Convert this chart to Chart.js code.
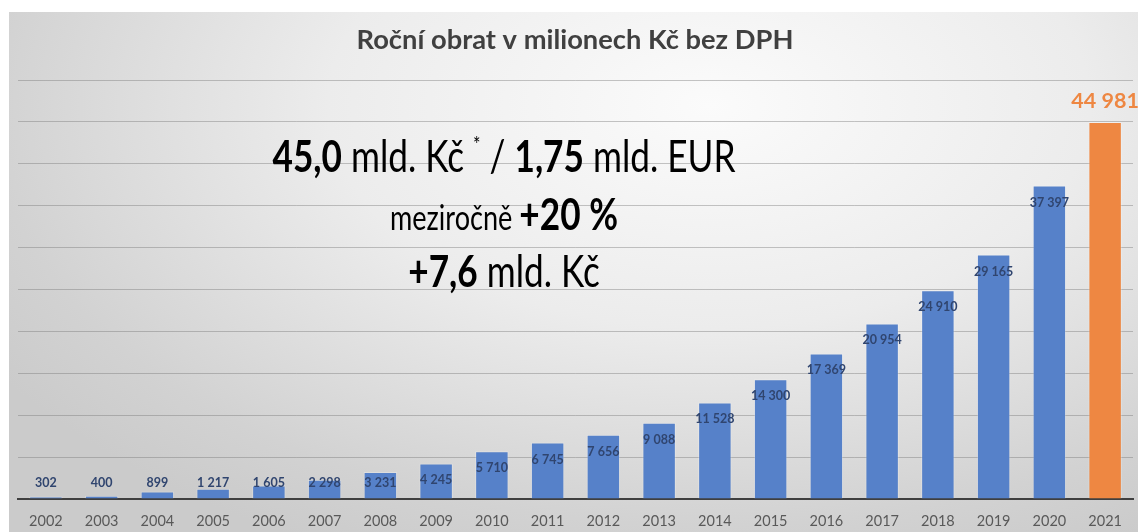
<!DOCTYPE html>
<html>
<head>
<meta charset="utf-8">
<script src="https://cdn.jsdelivr.net/npm/chart.js@4.4.1/dist/chart.umd.min.js"></script>
<style>
    html, body { margin: 0; padding: 0; background: #fff; }
    #wrap { position: relative; width: 1138px; height: 532px; overflow: hidden; background: #fff; }
    #bg {
        position: absolute; left: 9px; top: 12px; right: 0; bottom: 0;
        background: radial-gradient(ellipse 75% 95% at 62% 18%, #fbfbfb 0%, #ececec 45%, #d2d2d2 85%, #cbcbcb 100%);
    }
    #turnoverChart { position: absolute; left: 0; top: 0; }
</style>
</head>
<body>
<div id="wrap">
    <div id="bg"></div>
    <canvas id="turnoverChart" width="1138" height="532"></canvas>
</div>
<script>
// Roční obrat v milionech Kč
const years = ['2002', '2003', '2004', '2005', '2006', '2007', '2008', '2009', '2010', '2011',
    '2012', '2013', '2014', '2015', '2016', '2017', '2018', '2019', '2020', '2021'];
const turnover = [302, 400, 899, 1217, 1605, 2298, 3231, 4245, 5710, 6745,
    7656, 9088, 11528, 14300, 17369, 20954, 24910, 29165, 37397, 44981];

const titleText = 'Roční obrat v milionech Kč bez DPH';
// headline rows: [text, bold?, variant]
const headline1 = [['45,0', true], [' mld. Kč ', false], ['*', false, 'sup'], [' / ', false], ['1,75', true], [' mld. EUR', false]];
const headline2 = [['meziročně ', false, 'small'], ['+20 %', true]];
const headline3 = [['+7,6', true], [' mld. Kč', false]];

const blue = '#5681c9';
const orange = '#ee8742';
const fontFamily = 'Lato, "Open Sans", sans-serif';

const barColors = turnover.map((v, i) => (i === turnover.length - 1 ? orange : blue));

function fmt(n) {
    return String(n).replace(/\B(?=(\d{3})+(?!\d))/g, ' ');
}

function runFont(run, size) {
    let s = size;
    if (run[2] === 'sup') s = size * 0.5;
    if (run[2] === 'small') s = size * 0.77;
    return (run[1] ? 'bold ' : '') + s + 'px ' + fontFamily;
}

function drawRuns(ctx, runs, cx, baseline, size, scaleX) {
    let total = 0;
    const widths = runs.map((r) => {
        ctx.font = runFont(r, size);
        const w = ctx.measureText(r[0]).width;
        total += w;
        return w;
    });
    ctx.save();
    ctx.translate(cx, baseline);
    ctx.scale(scaleX, 1);
    let x = -total / 2;
    ctx.textAlign = 'left';
    ctx.textBaseline = 'alphabetic';
    ctx.fillStyle = '#000';
    runs.forEach((r, i) => {
        ctx.font = runFont(r, size);
        const dy = r[2] === 'sup' ? -size * 0.45 : 0;
        ctx.fillText(r[0], x, dy);
        x += widths[i];
    });
    ctx.restore();
}

const textPlugin = {
    id: 'texts',
    afterDatasetsDraw(chart) {
        const ctx = chart.ctx;
        const meta = chart.getDatasetMeta(0);

        // value labels
        meta.data.forEach((bar, i) => {
            ctx.save();
            ctx.textAlign = 'center';
            if (i === meta.data.length - 1) {
                ctx.font = 'bold 21.5px ' + fontFamily;
                ctx.fillStyle = orange;
                ctx.textBaseline = 'alphabetic';
                ctx.fillText(fmt(turnover[i]), bar.x, bar.y - 14);
            } else {
                ctx.font = 'bold 12.5px ' + fontFamily;
                ctx.fillStyle = '#30456f';
                ctx.textBaseline = 'middle';
                const y = Math.min(bar.y + 17, bar.base - 16);
                ctx.fillText(fmt(turnover[i]), bar.x, y);
            }
            ctx.restore();
        });

        // title
        ctx.save();
        ctx.translate(575, 49);
        ctx.scale(1.05, 1);
        ctx.font = 'bold 26px ' + fontFamily;
        ctx.fillStyle = '#404040';
        ctx.textAlign = 'center';
        ctx.textBaseline = 'alphabetic';
        ctx.fillText(titleText, 0, 0);
        ctx.restore();

        // headline
        drawRuns(ctx, headline1, 504, 172, 44, 0.8);
        drawRuns(ctx, headline2, 504, 230, 44, 0.8);
        drawRuns(ctx, headline3, 504, 287, 44, 0.8);
    }
};

const ctxTurnover = document.getElementById('turnoverChart').getContext('2d');

new Chart(ctxTurnover, {
    type: 'bar',
    data: {
        labels: years,
        datasets: [
            {
                label: 'Obrat',
                data: turnover,
                backgroundColor: barColors,
                borderColor: 'rgba(255,255,255,0.25)',
                borderWidth: 1,
                barPercentage: 0.6,
                categoryPercentage: 1.0,
            },
        ],
    },
    options: {
        responsive: false,
        animation: false,
        layout: {
            padding: { left: 18, right: 5, top: 80, bottom: 0 },
        },
        plugins: {
            legend: { display: false },
            title: { display: false },
            tooltip: { enabled: false },
        },
        scales: {
            x: {
                grid: { display: false, drawTicks: false },
                border: { display: true, color: '#3f3f3f', width: 2 },
                ticks: {
                    color: '#595959',
                    font: { family: fontFamily, size: 14.5 },
                    padding: 14,
                    maxRotation: 0,
                    autoSkip: false,
                },
                afterFit(scale) {
                    scale.height = 33;
                },
            },
            y: {
                min: 0,
                max: 50000,
                ticks: { display: false, stepSize: 5000 },
                grid: { color: 'rgba(120,120,120,0.42)', lineWidth: 1, drawTicks: false },
                border: { display: false },
            },
        },
    },
    plugins: [textPlugin],
});
</script>
</body>
</html>
